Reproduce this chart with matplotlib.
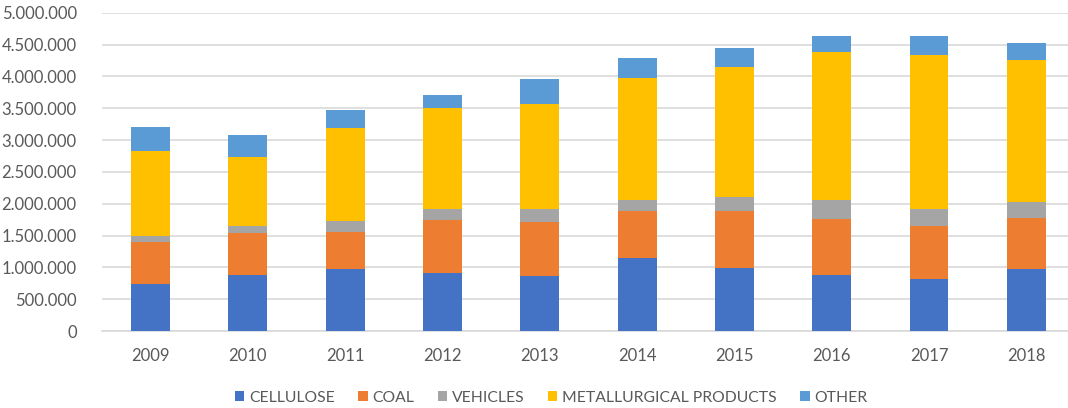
import matplotlib.pyplot as plt
from matplotlib.ticker import FuncFormatter
import numpy as np

years = ["2009", "2010", "2011", "2012", "2013", "2014", "2015", "2016", "2017", "2018"]
cellulose = [740000, 880000, 979000, 911000, 864000, 1152000, 995000, 880000, 817000, 974000]
coal = [655000, 659000, 581000, 838000, 853000, 728000, 895000, 879000, 837000, 806000]
vehicles = [95000, 115000, 173000, 173000, 205000, 178000, 215000, 299000, 268000, 241000]
metallurgical = [1340000, 1074000, 1461000, 1580000, 1643000, 1911000, 2042000, 2329000, 2418000, 2241000]
other = [372000, 356000, 277000, 205000, 398000, 319000, 303000, 241000, 288000, 266000]

series = [
    ("CELLULOSE", cellulose, "#4472C4"),
    ("COAL", coal, "#ED7D31"),
    ("VEHICLES", vehicles, "#A5A5A5"),
    ("METALLURGICAL PRODUCTS", metallurgical, "#FFC000"),
    ("OTHER", other, "#5B9BD5"),
]

plt.rcParams["font.family"] = ["Lato", "DejaVu Sans"]

fig = plt.figure(figsize=(10.68, 4.08), dpi=100)
ax = fig.add_axes([101.8 / 1068, 0.1887, (1068 - 101.8) / 1068, 0.780])

x = np.arange(len(years))
bottom = np.zeros(len(years))
for name, values, color in series:
    ax.bar(x, values, width=0.4, bottom=bottom, color=color, label=name, zorder=3)
    bottom += np.array(values)

ax.set_xlim(-0.5, 9.428)
ax.set_ylim(0, 5000000)
ax.set_yticks(np.arange(0, 5000001, 500000))
ax.yaxis.set_major_formatter(FuncFormatter(lambda v, _: f"{int(v):,}".replace(",", ".")))
ax.set_xticks(x)
ax.set_xticklabels(years)

ax.grid(axis="y", color="#D9D9D9", linewidth=1.2, zorder=0)
for s in ["top", "right", "left"]:
    ax.spines[s].set_visible(False)
ax.spines["bottom"].set_color("#D9D9D9")
ax.spines["bottom"].set_linewidth(1.2)
ax.tick_params(axis="both", length=0, labelsize=12, colors="#595959")
ax.tick_params(axis="x", pad=12)
ax.tick_params(axis="y", pad=18)

fig.legend(loc="center", bbox_to_anchor=(0.516, 0.025), ncol=5, frameon=False,
           fontsize=11.3, labelcolor="#595959", handlelength=0.6, handleheight=0.6,
           handletextpad=0.3, columnspacing=1.5)

fig.savefig("out.png", dpi=100)
